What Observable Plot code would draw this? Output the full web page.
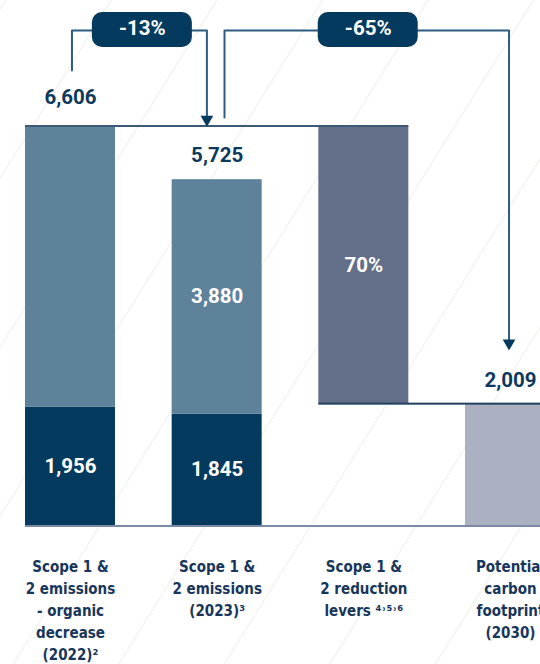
<!DOCTYPE html>
<html><head><meta charset="utf-8">
<script src="https://cdn.jsdelivr.net/npm/d3@7"></script>
<script src="https://cdn.jsdelivr.net/npm/@observablehq/plot@0.6"></script>
<style>
html,body{margin:0;padding:0;background:#fff;}
body{width:540px;height:664px;overflow:hidden;
background-image:repeating-linear-gradient(-58deg, rgba(255,255,255,0) 0px, rgba(255,255,255,0) 88px, #f7f5f1 88px, #f7f5f1 89.5px);}
#chart svg{display:block;background:transparent;}
</style></head><body><div id="chart"></div>
<script>
// ---- data ----
const categories = [
  "Scope 1 &\n2 emissions\n- organic\ndecrease\n(2022)²",
  "Scope 1 &\n2 emissions\n(2023)³",
  "Scope 1 &\n2 reduction\nlevers ⁴˒⁵˒⁶",
  "Potential\ncarbon\nfootprint\n(2030)"
];
const totals = [6606, 5725, null, 2009];          // bar tops (labels above)
const totalLabels = ["6,606", "5,725", null, "2,009"];
const lowerValues = [1956, 1845, null, null];     // dark bottom segment
const lowerLabels = ["1,956", "1,845", null, null];
const upperLabels = [null, "3,880", null, null];  // light upper segment
const leverRange = [2009, 6606];                  // floating reduction bar
const leverLabel = "70%";
const changeLabels = ["-13%", "-65%"];

// ---- layout ----
const W = 540, H = 664, mTop = 126, mBottom = 139, mLeft = 70, mRight = 30;
const yMax = totals[0];
const k = (H - mTop - mBottom) / yMax;   // px per unit
const px = p => p / k;                    // px -> data units
const halfBar = 45;

const C = {dark: "#033a5d", mid: "#5e8299", lever: "#636e88", future: "#abb1c0",
  text: "#0d3a5c", arrow: "#2c5c80", line: "#22405f", base: "#7b8ba5"};

const segs = [];
totals.forEach((t, i) => {
  if (lowerValues[i] != null) {
    segs.push({i, y1: 0, y2: lowerValues[i], fill: C.dark, label: lowerLabels[i]});
    segs.push({i, y1: lowerValues[i], y2: t, fill: C.mid, label: upperLabels[i]});
  }
});
segs.push({i: 2, y1: leverRange[0], y2: leverRange[1], fill: C.lever, label: leverLabel});
segs.push({i: 3, y1: 0, y2: totals[3], fill: C.future, label: null});

const tops = totals.map((t, i) => ({i, t, label: totalLabels[i]})).filter(d => d.t != null);
const cats = categories.map((c, i) => ({i, c}));

const topY = yMax + px(96);
const arrow1 = [[0.01, yMax + px(56)], [0.01, topY], [0.93, topY], [0.93, yMax + px(10)]];
const arrow2 = [[1.05, yMax + px(9)], [1.05, topY], [2.99, topY], [2.99, totals[3] + px(64)]];
const heads = [{x: 0.93, y: yMax}, {x: 2.99, y: totals[3] + px(54)}];
const boxes = [{x: 0.49, label: changeLabels[0]}, {x: 2.03, label: changeLabels[1]}];

const numFont = {fontFamily: "Roboto, 'Open Sans', sans-serif", fontWeight: 700, fontSize: 20.5};

const plot = Plot.plot({
  width: W, height: H,
  marginTop: mTop, marginBottom: mBottom, marginLeft: mLeft, marginRight: mRight,
  x: {type: "linear", domain: [0, 3], axis: null},
  y: {domain: [0, yMax], axis: null},
  style: {background: "transparent", overflow: "visible"},
  marks: [
    Plot.rect(segs, {x1: "i", x2: "i", y1: "y1", y2: "y2", fill: "fill",
      insetLeft: -halfBar, insetRight: -halfBar}),
    // top reference line at 6,606
    Plot.rect([{a: 0, b: 2, y: yMax}], {x1: "a", x2: "b", y1: "y", y2: "y",
      insetLeft: -halfBar, insetRight: -halfBar, insetTop: -1, insetBottom: -1, fill: "#3e5a76"}),
    // line at 2,009
    Plot.rect([{a: 2, b: 3, y: totals[3]}], {x1: "a", x2: "b", y1: "y", y2: "y",
      insetLeft: -halfBar, insetRight: -halfBar - 20, insetTop: -1, insetBottom: -1, fill: C.line}),
    // baseline
    Plot.rect([{a: 0, b: 3, y: 0}], {x1: "a", x2: "b", y1: "y", y2: "y",
      insetLeft: -halfBar, insetRight: -halfBar - 20, insetTop: 0, insetBottom: -2, fill: C.base}),
    Plot.line(arrow1, {x: d => d[0], y: d => d[1], stroke: C.arrow, strokeWidth: 2, strokeLinejoin: "round"}),
    Plot.line(arrow2, {x: d => d[0], y: d => d[1], stroke: C.arrow, strokeWidth: 2, strokeLinejoin: "round"}),
    Plot.dot(heads, {x: "x", y: "y", symbol: "triangle", rotate: 180, r: 4.7, fill: C.dark, stroke: null, dy: -7}),
    Plot.rect(boxes, {x1: "x", x2: "x", y1: () => topY, y2: () => topY,
      insetLeft: -50, insetRight: -50, insetTop: -18, insetBottom: -17, rx: 10, fill: C.dark}),
    Plot.text(boxes, {x: "x", y: () => topY, text: "label", fill: "#fff", dy: -2, ...numFont}),
    Plot.text(tops, {x: "i", y: d => d.t + px(d.i === 0 ? 29 : 24), text: "label", fill: C.text, ...numFont}),
    Plot.text(segs.filter(d => d.label), {x: "i", y: d => (d.y1 + d.y2) / 2, text: "label", fill: "#fff", ...numFont}),
    Plot.text(cats, {x: "i", y: () => 0, text: "c", lineAnchor: "top", dy: 31, lineHeight: 1.47,
      fill: "#18365a", fontSize: 15, fontWeight: 700,
      fontFamily: "'Liberation Sans Narrow', 'DejaVu Sans Condensed', 'Roboto', sans-serif"})
  ]
});
document.getElementById("chart").appendChild(plot);
</script>
</body></html>
